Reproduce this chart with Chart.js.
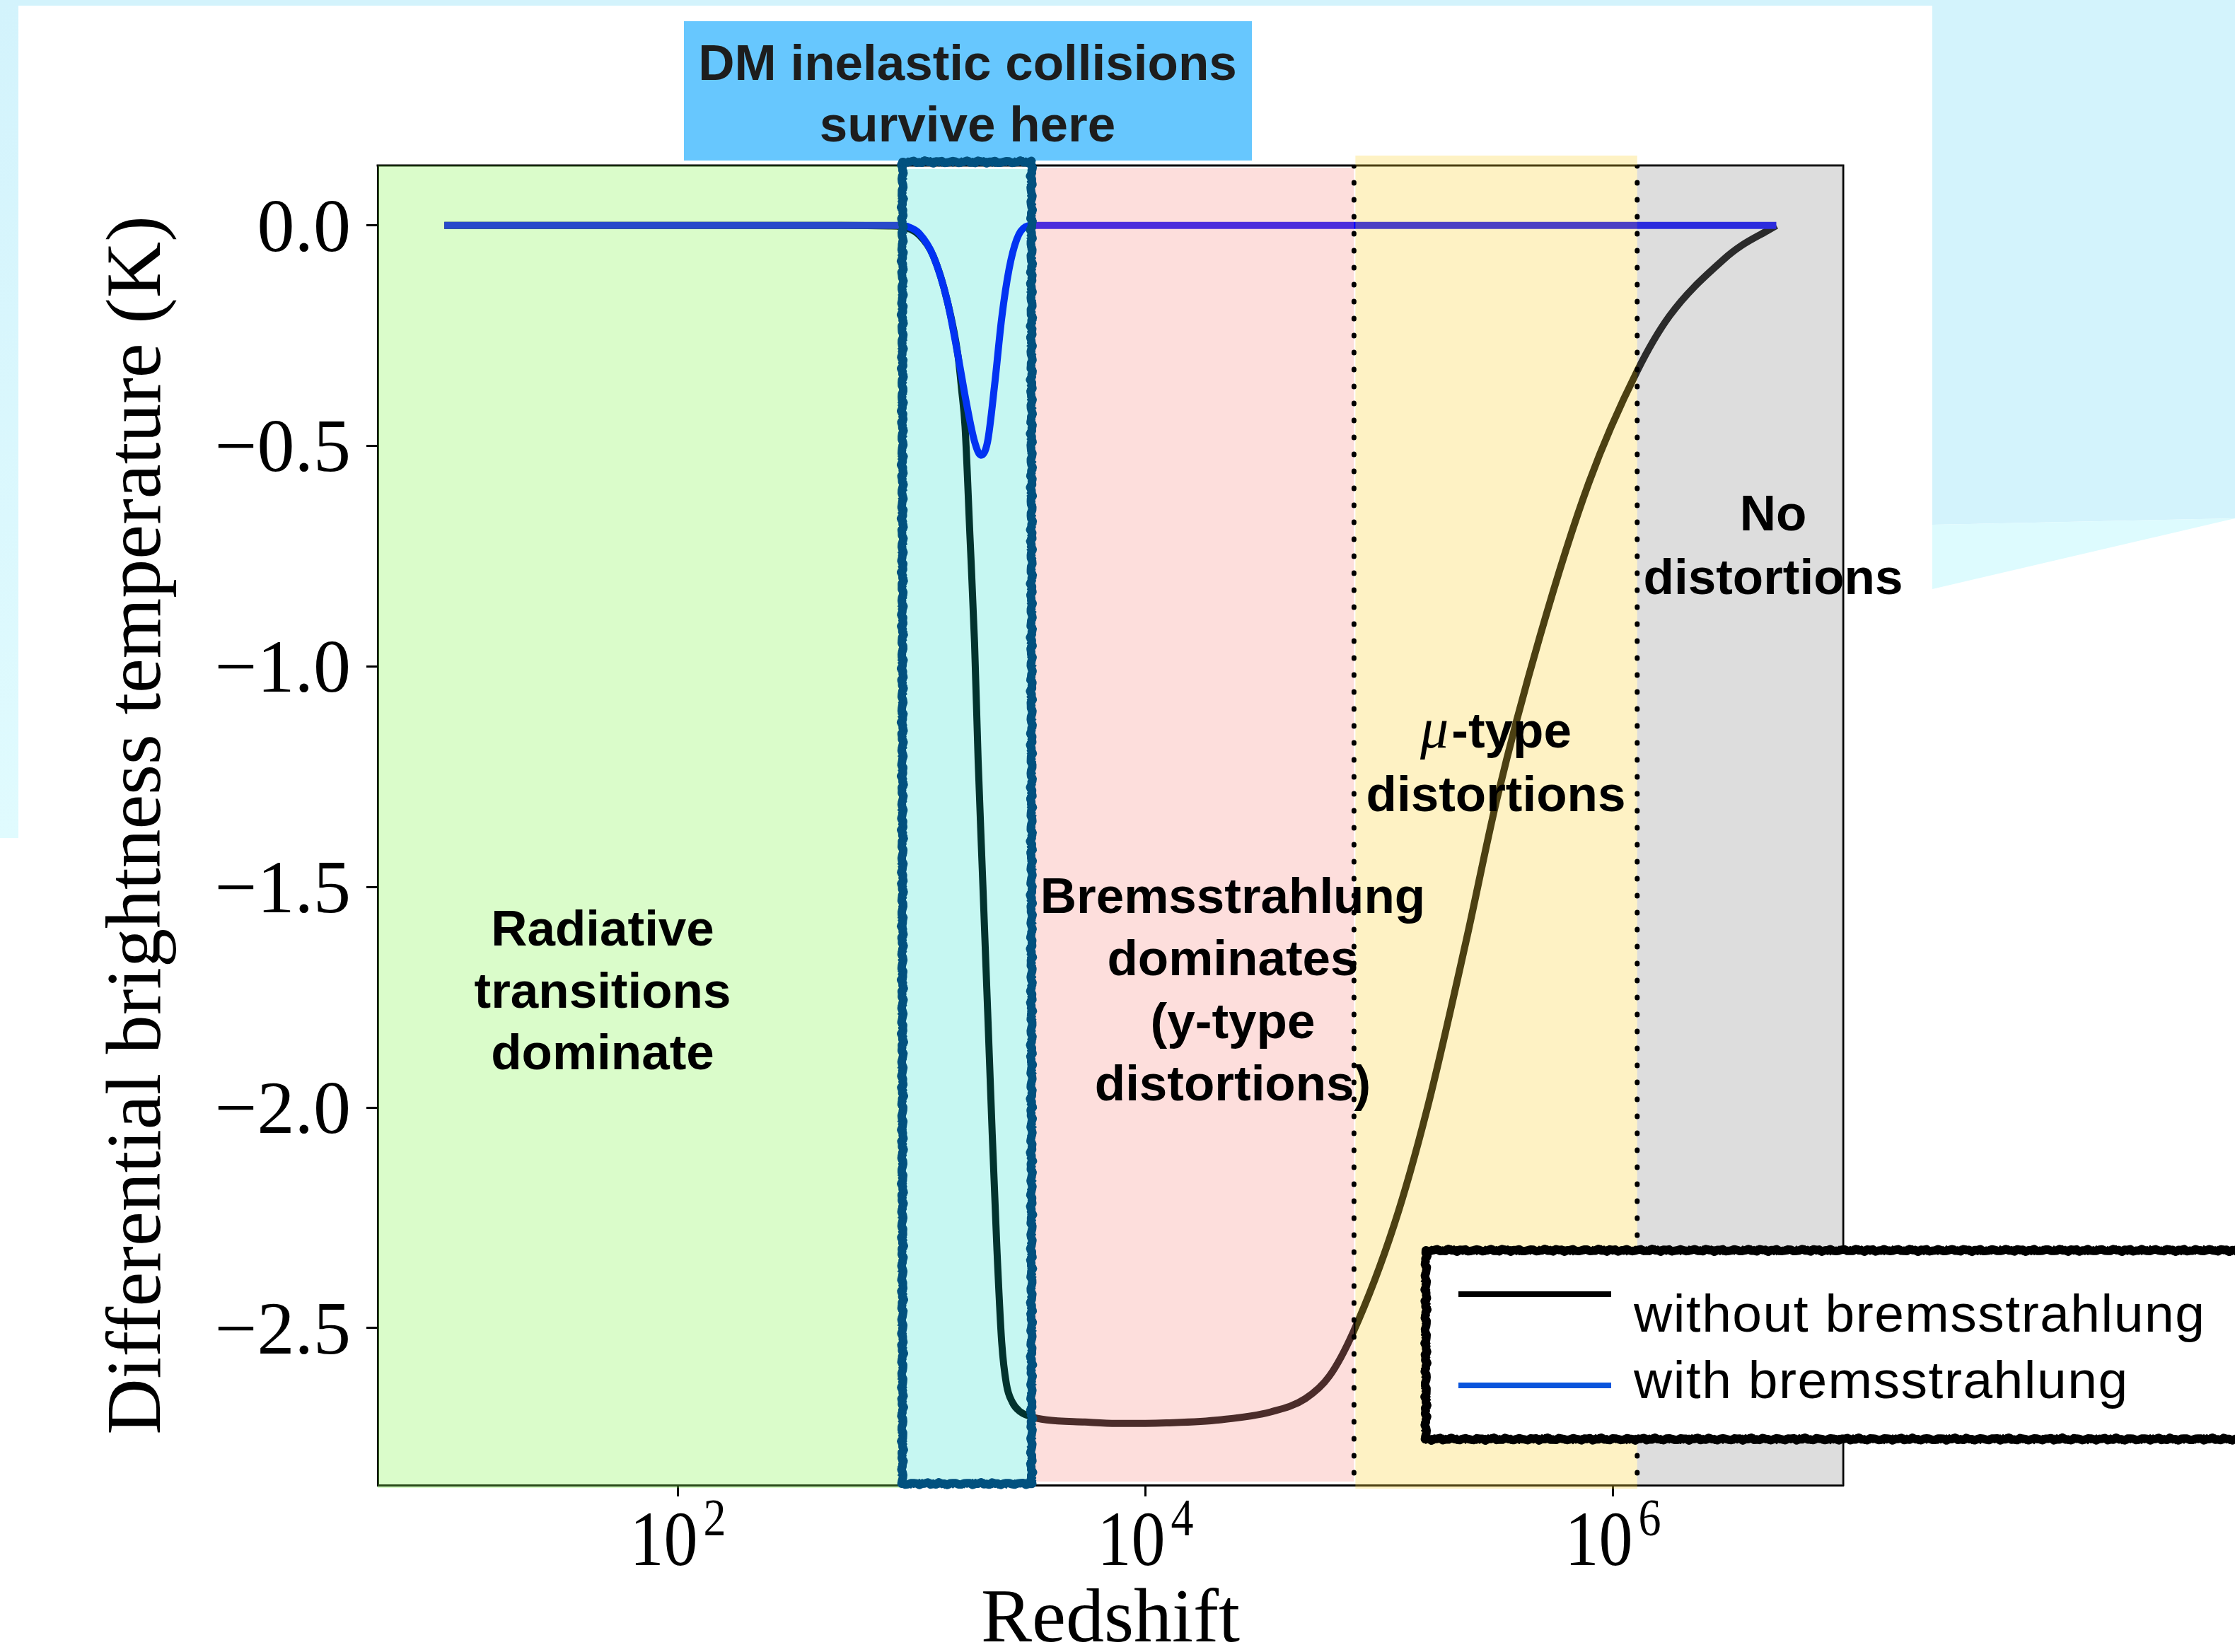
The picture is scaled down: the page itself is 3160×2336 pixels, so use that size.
<!DOCTYPE html>
<html>
<head>
<meta charset="utf-8">
<title>Differential brightness temperature vs redshift</title>
<script src="https://cdn.jsdelivr.net/npm/chart.js@4.4.1/dist/chart.umd.min.js"></script>
<style>
  html, body { margin: 0; padding: 0; background: #ffffff; }
  body { width: 3160px; height: 2336px; position: relative; overflow: hidden; }
  .deco { position: absolute; }
  #bandTop { left: 0; top: 0; width: 3160px; height: 8px; background: #d3f3fc; }
  #bandLeft { left: 0; top: 0; width: 26px; height: 1185px; background: linear-gradient(#d3f3fc, #e0fbfe); }
  #panelRight { left: 2732px; top: 0; width: 428px; height: 840px; background: #d3f3fc;
    clip-path: polygon(0 0, 428px 0, 428px 733px, 0 742px); }
  #panelRightLow { left: 2732px; top: 0; width: 428px; height: 840px; background: #ddfbfe;
    clip-path: polygon(0 742px, 428px 733px, 0 833px); }
  #chart { position: absolute; left: 0; top: 0; }
</style>
</head>
<body>
<div class="deco" id="bandTop"></div>
<div class="deco" id="bandLeft"></div>
<div class="deco" id="panelRight"></div>
<div class="deco" id="panelRightLow"></div>
<canvas id="chart" width="3160" height="2336"></canvas>
<script>
// ---- data -------------------------------------------------------------
// Redshift samples and differential brightness temperature (K), no bremsstrahlung
const zNoBrems = [10, 100, 500, 800, 904, 1077, 1236, 1422, 1578, 1634,
  1691, 1773, 1857, 1923, 2015, 2111, 2210, 2316, 2426, 2541,
  2693, 2919, 3205, 3770, 5500, 7500, 1.0e4, 1.23e4, 2.08e4, 3.44e4,
  4.83e4, 6.12e4, 7.76e4, 1.16e5, 1.6e5, 2.35e5, 3.19e5, 4.88e5, 7.89e5,
  1.27e6, 1.747e6, 2.99e6, 3.56e6, 4.57e6, 5.0e6];
const tNoBrems = [0, 0, 0, -0.001, -0.003, -0.022, -0.069, -0.173, -0.296, -0.371,
  -0.456, -0.70, -0.947, -1.211, -1.494, -1.777, -2.06, -2.324, -2.532, -2.627,
  -2.668, -2.69, -2.70, -2.708, -2.713, -2.716, -2.716, -2.715, -2.708, -2.69,
  -2.66, -2.609, -2.508, -2.265, -2.005, -1.624, -1.30, -0.930, -0.583,
  -0.33, -0.205, -0.076, -0.045, -0.012, 0];

// Same quantity with bremsstrahlung included
const zBrems = [10, 100, 500, 900, 955, 1077, 1236, 1422, 1578, 1710,
  1857, 1976, 2111, 2264, 2426, 2611, 2815, 3067, 3300, 1.0e4,
  1.0e5, 1.0e6, 5.0e6];
const tBrems = [0, 0, 0, 0, -0.002, -0.018, -0.069, -0.173, -0.296, -0.40,
  -0.49, -0.521, -0.49, -0.36, -0.21, -0.098, -0.031, -0.003, 0, 0,
  0, 0, 0];

const seriesNames = ['without bremsstrahlung', 'with bremsstrahlung'];

// Redshifts separating the physical regimes
const regimeEdges = [900, 3300, 7.8e4, 1.27e6];
// Dotted dividers between y/mu and mu/no-distortion regimes
const dividerZ = [7.8e4, 1.27e6];

const xTickValues = [1e2, 1e4, 1e6];
const yTickValues = [0, -0.5, -1.0, -1.5, -2.0, -2.5];
const xLimits = [5.19, 9.66e6];
const yLimits = [-2.856, 0.136];

const regimeText = [
  ['Radiative', 'transitions', 'dominate'],
  ['Bremsstrahlung', 'dominates', '(y-type', 'distortions)'],
  ['-type', 'distortions'],
  ['No', 'distortions']
];
const calloutText = ['DM inelastic collisions', 'survive here'];

// ---- drawing helpers --------------------------------------------------
function sketchRect(ctx, x0, y0, x1, y1, color, w) {
  ctx.save();
  ctx.strokeStyle = color;
  ctx.lineJoin = 'round';
  ctx.lineCap = 'round';
  const edges = [[x0, y0, x1, y0], [x1, y0, x1, y1], [x1, y1, x0, y1], [x0, y1, x0, y0]];
  const passes = [[0.85, 0.0, 0.5], [0.35, 1.7, 1.0], [0.3, 3.9, 1.15], [0.25, 5.3, 1.3], [0.2, 2.6, 1.4]];
  for (const [lw, ph, amp] of passes) {
    ctx.lineWidth = w * lw;
    ctx.beginPath();
    edges.forEach(([ax, ay, bx, by], e) => {
      const len = Math.hypot(bx - ax, by - ay);
      const n = Math.max(2, Math.round(len / 4));
      const nx = -(by - ay) / len, ny = (bx - ax) / len;
      for (let i = 0; i <= n; i++) {
        const t = i / n, s = i + e * 97;
        const off = w * 0.3 * amp * (Math.sin(s * 1.31 + ph) * 0.6 + Math.sin(s * 2.97 + ph * 1.7) * 0.4);
        const px = ax + (bx - ax) * t + nx * off;
        const py = ay + (by - ay) * t + ny * off;
        if (i === 0 && e === 0) ctx.moveTo(px, py); else ctx.lineTo(px, py);
      }
    });
    ctx.closePath();
    ctx.stroke();
  }
  ctx.restore();
}

const regimePlugin = {
  id: 'regimes',
  beforeDatasetsDraw(chart) {
    // top and right spines
    const { ctx, chartArea: a } = chart;
    ctx.save();
    ctx.strokeStyle = '#000';
    ctx.lineWidth = 3;
    ctx.beginPath();
    ctx.moveTo(a.left - 1.5, a.top);
    ctx.lineTo(a.right, a.top);
    ctx.lineTo(a.right, a.bottom + 1.5);
    ctx.stroke();
    ctx.restore();
  },
  afterDatasetDraw(chart, args) {
    // translucent regime shading laid over the curves and spines
    if (chart.data.datasets[args.index].label !== seriesNames[1]) return;
    const { ctx, chartArea: a, scales: { x } } = chart;
    const [b0, b1, b2, b3] = regimeEdges.map(v => x.getPixelForValue(v));
    ctx.save();
    ctx.fillStyle = 'rgba(132,245,78,0.3)';
    ctx.fillRect(a.left, a.top, b0 - a.left, a.bottom + 4 - a.top);
    ctx.fillStyle = 'rgba(248,145,138,0.3)';
    ctx.fillRect(b1, a.top + 3, b2 - b1, a.bottom - 5 - a.top - 3);
    ctx.fillStyle = 'rgba(252,212,58,0.3)';
    ctx.fillRect(b2 + 2, a.top - 14, b3 - b2 - 2, a.bottom + 5 - a.top + 14);
    ctx.fillStyle = 'rgba(142,142,142,0.3)';
    ctx.fillRect(b3, a.top, a.right - b3, a.bottom - a.top);
    ctx.fillStyle = 'rgba(7,220,198,0.23)';
    ctx.fillRect(b0, a.top + 5, b1 - b0, a.bottom - a.top - 2);
    ctx.restore();
  },
  afterDraw(chart) {
    const { ctx, chartArea: a, scales: { x } } = chart;
    const b0 = x.getPixelForValue(regimeEdges[0]);
    const b1 = x.getPixelForValue(regimeEdges[1]);

    // callout box above the surviving window
    ctx.save();
    ctx.fillStyle = '#67c7fe';
    ctx.fillRect(967, 30, 803, 197);
    ctx.fillStyle = '#1d1d1d';
    ctx.font = 'bold 71px "Liberation Sans", Arial, sans-serif';
    ctx.textAlign = 'center';
    ctx.textBaseline = 'alphabetic';
    ctx.fillText(calloutText[0], 1368, 113);
    ctx.fillText(calloutText[1], 1368, 200);
    ctx.restore();

    // hand-drawn frame around the window
    sketchRect(ctx, b0 + 2, a.top - 5, b1 - 2, a.bottom - 2, '#02517f', 14);

    // regime labels
    ctx.save();
    ctx.fillStyle = '#000';
    ctx.textAlign = 'center';
    ctx.textBaseline = 'alphabetic';
    const bold = 'bold 71px "Liberation Sans", Arial, sans-serif';
    ctx.font = bold;
    regimeText[0].forEach((s, i) => ctx.fillText(s, 852, 1337 + i * 87.5));
    regimeText[1].forEach((s, i) => ctx.fillText(s, 1743, 1291 + i * 88.3));
    regimeText[3].forEach((s, i) => ctx.fillText(s, 2507, 750 + i * 90));
    // mu-type label: italic mu followed by bold text
    const muFont = 'italic 80px "Liberation Serif", serif';
    ctx.font = muFont;
    const wMu = ctx.measureText('\u03bc').width;
    ctx.font = bold;
    const wRest = ctx.measureText(regimeText[2][0]).width;
    const startX = 2115 - (wMu + 4 + wRest) / 2;
    ctx.textAlign = 'left';
    ctx.font = muFont;
    ctx.fillText('\u03bc', startX, 1057);
    ctx.font = bold;
    ctx.fillText(regimeText[2][0], startX + wMu + 4, 1057);
    ctx.textAlign = 'center';
    ctx.fillText(regimeText[2][1], 2115, 1147);
    ctx.restore();

    // x tick labels as powers of ten
    ctx.save();
    ctx.fillStyle = '#000';
    ctx.textBaseline = 'alphabetic';
    ctx.textAlign = 'left';
    x.ticks.forEach(t => {
      const px = x.getPixelForValue(t.value);
      const expo = String(Math.round(Math.log10(t.value)));
      ctx.font = '96px "Liberation Serif", serif';
      const w1 = ctx.measureText('10').width;
      ctx.font = '64px "Liberation Serif", serif';
      const w2 = ctx.measureText(expo).width;
      const gap = 8;
      const sx = px - (w1 + gap + w2) / 2;
      ctx.save();
      ctx.translate(0, 2213);
      ctx.scale(1, 1.14);
      ctx.font = '96px "Liberation Serif", serif';
      ctx.fillText('10', sx, 0);
      ctx.font = '64px "Liberation Serif", serif';
      ctx.fillText(expo, sx + w1 + gap, -42 / 1.14);
      ctx.restore();
    });
    ctx.restore();

    // legend
    ctx.save();
    ctx.fillStyle = '#ffffff';
    ctx.fillRect(2016, 1768, 1200, 267);
    sketchRect(ctx, 2016, 1768, 3200, 2035, '#000', 14);
    const legendColors = ['#000000', '#0a55dc'];
    const lineY = [1830, 1959];
    const textY = [1883, 1977];
    ctx.lineCap = 'butt';
    ctx.lineWidth = 8;
    seriesNames.forEach((name, i) => {
      ctx.strokeStyle = legendColors[i];
      ctx.beginPath();
      ctx.moveTo(2062, lineY[i]);
      ctx.lineTo(2278, lineY[i]);
      ctx.stroke();
      ctx.fillStyle = '#000';
      ctx.font = '75px "Liberation Sans", Arial, sans-serif';
      ctx.letterSpacing = '1.5px';
      ctx.textAlign = 'left';
      ctx.textBaseline = 'alphabetic';
      ctx.fillText(name, 2310, textY[i]);
      ctx.letterSpacing = '0px';
    });
    ctx.restore();
  }
};

const toPoints = (zs, ts) => zs.map((z, i) => ({ x: z, y: ts[i] }));

const datasets = [
  { label: seriesNames[0], data: toPoints(zNoBrems, tNoBrems), borderColor: '#000000',
    borderWidth: 10, order: 2, cubicInterpolationMode: 'monotone', pointRadius: 0, fill: false },
  { label: seriesNames[1], data: toPoints(zBrems, tBrems), borderColor: '#0000ff',
    borderWidth: 10, order: 1, cubicInterpolationMode: 'monotone', pointRadius: 0, fill: false }
].concat(dividerZ.map(z => ({
  label: 'divider', data: [{ x: z, y: yLimits[1] }, { x: z, y: yLimits[0] }],
  borderColor: '#000000', borderWidth: 7, borderDash: [1, 23], borderCapStyle: 'round',
  order: 0, pointRadius: 0, fill: false
})));

const serif = '"Liberation Serif", "Times New Roman", serif';

new Chart(document.getElementById('chart'), {
  type: 'line',
  data: { datasets },
  options: {
    responsive: false,
    animation: false,
    devicePixelRatio: 1,
    events: [],
    layout: { padding: { left: 0, top: 234, right: 554, bottom: 0 } },
    plugins: { legend: { display: false }, tooltip: { enabled: false } },
    scales: {
      x: {
        type: 'logarithmic',
        position: 'bottom',
        min: xLimits[0],
        max: xLimits[1],
        afterBuildTicks: s => { s.ticks = xTickValues.map(v => ({ value: v })); },
        afterFit: s => { s.height = 236; },
        grid: { display: true, drawOnChartArea: false, drawTicks: true, tickLength: 16, tickWidth: 3, tickColor: '#000' },
        border: { display: true, color: '#000', width: 3 },
        ticks: { display: false },
        title: { display: true, text: 'Redshift', color: '#000',
          font: { family: serif, size: 108, lineHeight: 0.5 }, padding: { top: 0, bottom: 16 } }
      },
      y: {
        type: 'linear',
        position: 'left',
        min: yLimits[0],
        max: yLimits[1],
        afterBuildTicks: s => { s.ticks = yTickValues.map(v => ({ value: v })); },
        afterFit: s => { s.width = 534; },
        grid: { display: true, drawOnChartArea: false, drawTicks: true, tickLength: 16, tickWidth: 3, tickColor: '#000' },
        border: { display: true, color: '#000', width: 3 },
        ticks: {
          color: '#000', padding: 22, labelOffset: 8,
          font: { family: serif, size: 106 },
          callback: v => (v < 0 ? '\u2212' : '') + Math.abs(v).toFixed(1)
        },
        title: { display: true, text: 'Differential brightness temperature (K)', color: '#000',
          font: { family: serif, size: 110, lineHeight: 1 }, padding: { top: 142, bottom: 0 } }
      }
    }
  },
  plugins: [regimePlugin]
});
</script>
</body>
</html>
